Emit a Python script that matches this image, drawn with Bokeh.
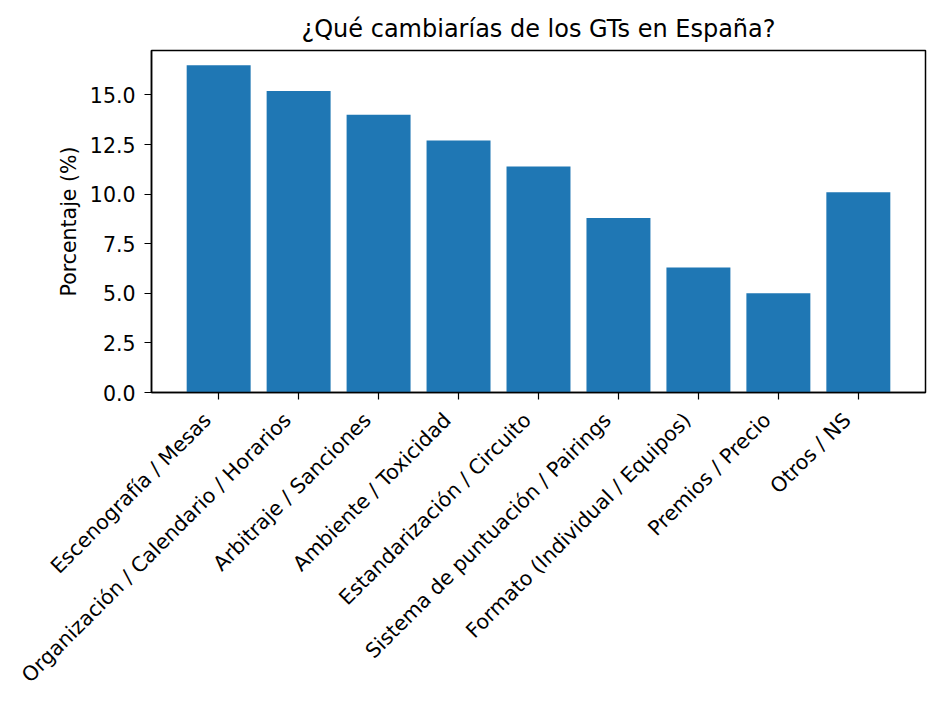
import math
from bokeh.plotting import figure
from bokeh.models import ColumnDataSource, FixedTicker, Range1d, CustomJSTickFormatter, LinearAxis
from bokeh.embed import file_html
from bokeh.resources import INLINE

categorias = [
    "Escenografía / Mesas",
    "Organización / Calendario / Horarios",
    "Arbitraje / Sanciones",
    "Ambiente / Toxicidad",
    "Estandarización / Circuito",
    "Sistema de puntuación / Pairings",
    "Formato (Individual / Equipos)",
    "Premios / Precio",
    "Otros / NS",
]
porcentajes = [16.5, 15.2, 14.0, 12.7, 11.4, 8.8, 6.3, 5.0, 10.1]
y_ticks = [0.0, 2.5, 5.0, 7.5, 10.0, 12.5, 15.0]

pos = list(range(len(categorias)))
source = ColumnDataSource(data=dict(x=pos, pct=porcentajes, cat=categorias))

FONT = "DejaVu Sans"

p = figure(width=932, height=698, title="¿Qué cambiarías de los GTs en España?",
           x_range=Range1d(-0.84, 8.84), y_range=Range1d(0, max(porcentajes) * 1.045),
           output_backend="svg", toolbar_location=None,
           min_border_left=151, min_border_right=7, min_border_top=50, min_border_bottom=304)

# labels sit a bit left of the ticks (matplotlib ha="right"), so they get a slightly shifted range
p.extra_x_ranges = {"lab": Range1d(-0.84 + 0.14, 8.84 + 0.14)}

p.vbar(x="x", top="pct", width=0.8, source=source, fill_color="#1f77b4", line_color=None)

p.title.align = "center"
p.title.text_font = FONT
p.title.text_font_size = "24px"
p.title.text_font_style = "normal"
p.title.text_color = "black"
p.title.standoff = 15

p.xgrid.visible = False
p.ygrid.visible = False
p.outline_line_color = "black"
p.outline_line_width = 1.5
p.outline_line_alpha = 1.0

# x axis: ticks only
p.xaxis.ticker = FixedTicker(ticks=pos)
p.xaxis.major_label_overrides = {i: "" for i in pos}
p.xaxis.major_label_text_font_size = "1px"
p.xaxis.major_label_standoff = 0

p.yaxis.ticker = FixedTicker(ticks=y_ticks)
p.yaxis.formatter = CustomJSTickFormatter(code="return tick.toFixed(1);")
p.yaxis.axis_label = "Porcentaje (%)"

for ax in (p.xaxis, p.yaxis):
    ax.axis_line_color = "black"
    ax.axis_line_width = 1.5
    ax.major_tick_line_color = "black"
    ax.major_tick_line_width = 1.2
    ax.major_tick_out = 7
    ax.major_tick_in = 0
    ax.minor_tick_line_color = None

p.yaxis.major_label_text_font = FONT
p.yaxis.major_label_text_font_size = "20.5px"
p.yaxis.major_label_text_color = "black"
p.yaxis.major_label_standoff = 9

p.yaxis.axis_label_text_font = FONT
p.yaxis.axis_label_text_font_size = "20.5px"
p.yaxis.axis_label_text_font_style = "normal"
p.yaxis.axis_label_text_color = "black"
p.yaxis.axis_label_standoff = 6

# second x axis: the rotated category names
eje_cat = LinearAxis(x_range_name="lab", ticker=FixedTicker(ticks=pos),
                     major_label_overrides={i: c for i, c in enumerate(categorias)},
                     major_label_orientation=math.pi / 4,
                     major_label_standoff=17,
                     major_label_text_font=FONT, major_label_text_font_size="20.5px",
                     major_label_text_color="black",
                     axis_line_color=None, major_tick_line_color=None,
                     minor_tick_line_color=None, major_tick_out=0, major_tick_in=0)
p.add_layout(eje_cat, "below")

open("out.html", "w").write(file_html(p, INLINE))
